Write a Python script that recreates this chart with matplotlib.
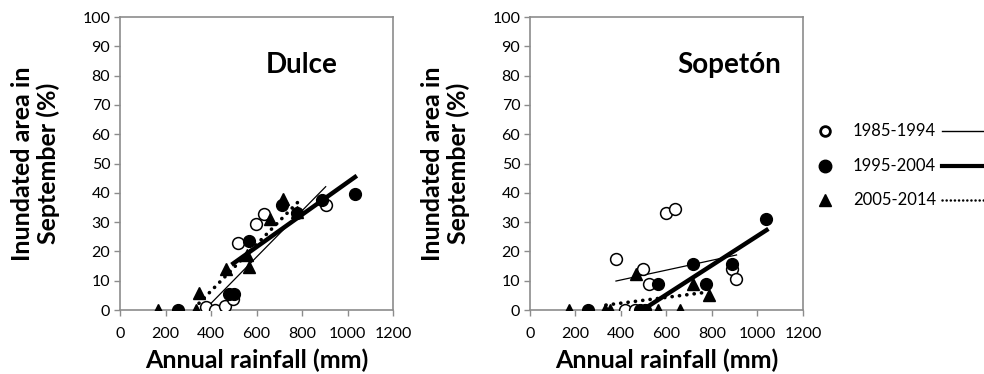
import matplotlib
matplotlib.use("Agg")
import matplotlib.pyplot as plt
from matplotlib.lines import Line2D

plt.rcParams['font.family'] = ['Lato', 'DejaVu Sans']

# --- data ---
periods = ['1985-1994', '1995-2004', '2005-2014']

# Dulce
dulce_x_8594 = [378, 418, 462, 490, 498, 520, 596, 633, 904]
dulce_y_8594 = [1, 0, 1.4, 5, 3.6, 23, 29.5, 32.7, 36]
dulce_x_9504 = [253, 480, 500, 567, 711, 777, 886, 1033]
dulce_y_9504 = [0, 5.5, 5.5, 23.5, 35.8, 33, 37.5, 39.6]
dulce_x_0514 = [168, 334, 347, 465, 557, 567, 659, 715, 777]
dulce_y_0514 = [0, 0, 5.7, 13.9, 18.8, 14.6, 31, 38, 33.5]

# Sopeton
sop_x_8594 = [378, 418, 462, 498, 524, 596, 637, 886, 904]
sop_y_8594 = [17.4, 0, 0, 13.9, 8.8, 33, 34.5, 13.9, 10.6]
sop_x_9504 = [256, 484, 505, 564, 715, 772, 889, 1036]
sop_y_9504 = [0, 0, 0, 8.8, 15.6, 8.8, 15.6, 31]
sop_x_0514 = [173, 330, 352, 466, 564, 659, 715, 788]
sop_y_0514 = [0, 0, 0, 12.2, 0, 0, 8.8, 5.3]

# trend lines (start, end)
dulce_trend_x = [[381, 904], [498, 1033], [347, 784]]
dulce_trend_y = [[0.8, 42.1], [15.9, 45.4], [2.3, 37]]
sop_trend_x = [[378, 908], [498, 1040], [334, 769]]
sop_trend_y = [[9.9, 18.8], [0.2, 27.3], [1.7, 6]]

xticks = [0, 200, 400, 600, 800, 1000, 1200]
yticks = list(range(0, 101, 10))

grey = '#8c8c8c'
line_styles = [dict(lw=0.9, ls='-'),
               dict(lw=3.2, ls='-'),
               dict(lw=2.6, ls=(0, (0.05, 2.0)), dash_capstyle='round')]
legend_styles = [dict(lw=1.0, ls='-'),
                 dict(lw=3.0, ls='-'),
                 dict(lw=1.8, ls=(0, (0.05, 1.6)), dash_capstyle='round')]

fig = plt.figure(figsize=(9.84, 3.74), dpi=100)
ax1 = fig.add_axes([0.122, 0.171, 0.2774, 0.7834])
ax2 = fig.add_axes([0.5386, 0.171, 0.2774, 0.7834])


def panel(ax, pts, tx, ty, title, title_x):
    (x1, y1), (x2, y2), (x3, y3) = pts
    for i in range(3):
        ax.plot(tx[i], ty[i], color='black', zorder=2, **line_styles[i])
    ax.plot(x1, y1, 'o', ms=8.5, mfc='white', mec='black', mew=1.1, ls='none', zorder=3)
    ax.plot(x2, y2, 'o', ms=8.5, mfc='black', mec='black', ls='none', zorder=3)
    ax.plot(x3, y3, '^', ms=9, mfc='black', mec='black', ls='none', zorder=3)
    ax.set_xlim(0, 1200)
    ax.set_ylim(0, 100)
    ax.set_xticks(xticks)
    ax.set_yticks(yticks)
    ax.tick_params(labelsize=11.5, length=4, color=grey, width=1, pad=3)
    ax.tick_params(axis='x', pad=8)
    for s in ax.spines.values():
        s.set_color(grey)
        s.set_linewidth(1.2)
    ax.set_xlabel('Annual rainfall (mm)', fontsize=18, fontweight='bold')
    ax.set_ylabel('Inundated area in\nSeptember (%)', fontsize=18, fontweight='bold',
                  linespacing=1.12)
    ax.xaxis.set_label_coords(0.5, -0.171)
    ax.yaxis.set_label_coords(-0.31, 0.5)
    ax.xaxis.label.set_va('center')
    ax.yaxis.label.set_va('center')
    ax.text(title_x, 83.6, title, fontsize=20, fontweight='bold', ha='center', va='center')


panel(ax1, [(dulce_x_8594, dulce_y_8594), (dulce_x_9504, dulce_y_9504), (dulce_x_0514, dulce_y_0514)],
      dulce_trend_x, dulce_trend_y, 'Dulce', 800)
panel(ax2, [(sop_x_8594, sop_y_8594), (sop_x_9504, sop_y_9504), (sop_x_0514, sop_y_0514)],
      sop_trend_x, sop_trend_y, 'Sopetón', 875)

# legend drawn by hand to the right of the second panel
W, H = 984, 374
rows = [131, 166, 200]
markers = [dict(marker='o', mfc='white', mec='black', mew=2, ms=7),
           dict(marker='o', mfc='black', mec='black', ms=9),
           dict(marker='^', mfc='black', mec='black', ms=9)]
for i, lab in enumerate(periods):
    yf = 1 - rows[i] / H
    fig.add_artist(Line2D([825 / W], [yf], ls='none', **markers[i]))
    fig.text(853 / W, yf, lab, fontsize=12, va='center', ha='left')
    fig.add_artist(Line2D([942 / W, 1.0], [yf, yf], color='black', **legend_styles[i]))

fig.savefig('out.png', dpi=100)
